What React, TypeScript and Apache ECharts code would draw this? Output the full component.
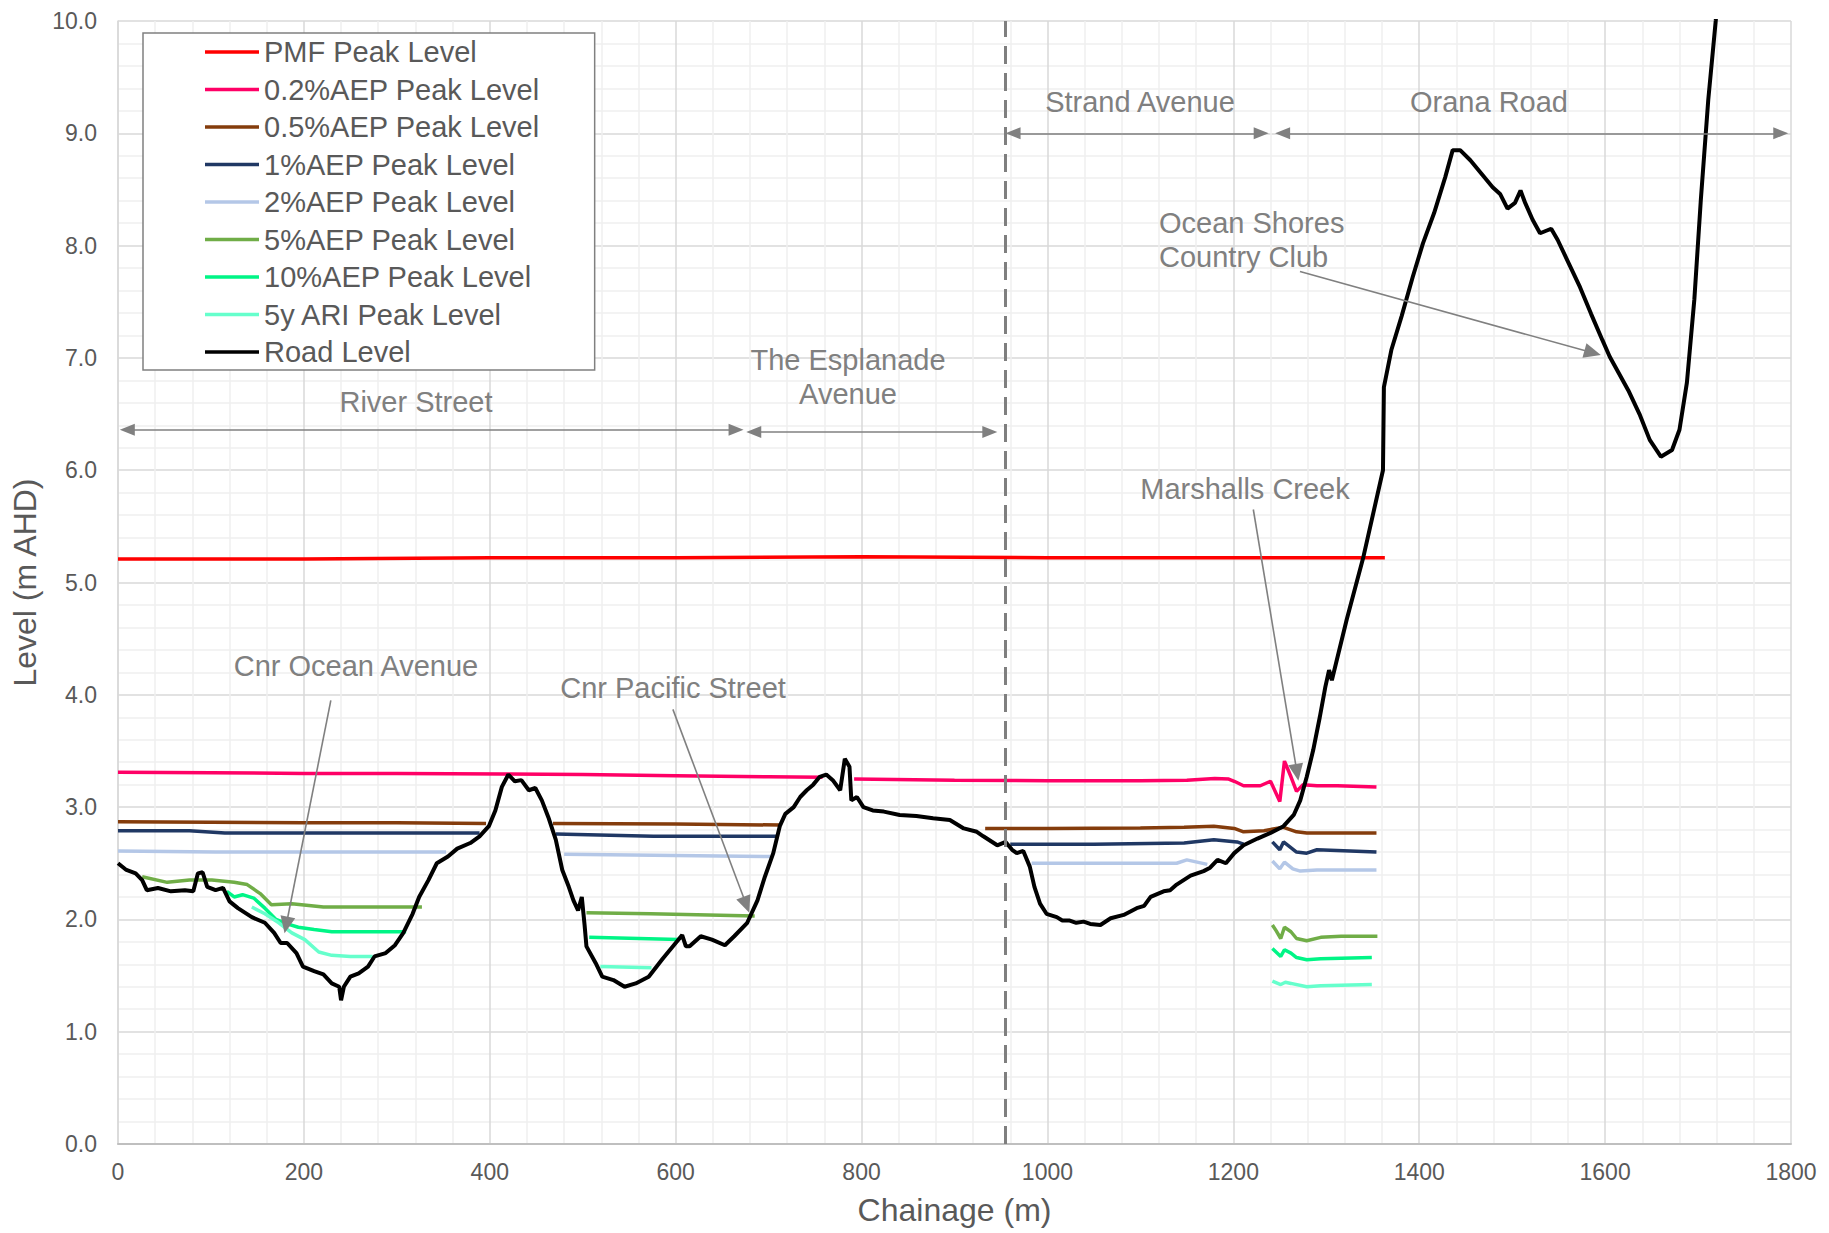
import React, { useEffect, useRef } from "react";
import * as echarts from "echarts";

const FONT = '"Liberation Sans", Arial, Helvetica, sans-serif';

// ---------- data ----------
const seriesNames = [
  "PMF Peak Level",
  "0.2%AEP Peak Level",
  "0.5%AEP Peak Level",
  "1%AEP Peak Level",
  "2%AEP Peak Level",
  "5%AEP Peak Level",
  "10%AEP Peak Level",
  "5y ARI Peak Level",
  "Road Level",
];
const seriesColors = ["#ff0000", "#ff0066", "#843c0c", "#203864", "#b4c7e7", "#70ad47", "#00f586", "#66ffcc", "#000000"];

const xTicks = [0, 200, 400, 600, 800, 1000, 1200, 1400, 1600, 1800];
const yTicks = [0, 1, 2, 3, 4, 5, 6, 7, 8, 9, 10];

const pmfChainage = [0, 200, 400, 600, 800, 1000, 1200, 1363];
const pmfLevel = [5.21, 5.21, 5.22, 5.22, 5.23, 5.22, 5.22, 5.22];

const aep02Chainage = [0, 100, 200, 300, 413, 500, 600, 700, 758, 775, 792, 900, 1000, 1100, 1150, 1180, 1195, 1201, 1211, 1229, 1240, 1250, 1255, 1262, 1268, 1275, 1290, 1312, 1354];
const aep02Level = [3.31, 3.305, 3.3, 3.3, 3.295, 3.29, 3.28, 3.27, 3.265, null, 3.25, 3.24, 3.235, 3.235, 3.24, 3.255, 3.25, 3.23, 3.19, 3.19, 3.23, 3.05, 3.41, 3.27, 3.14, 3.2, 3.19, 3.19, 3.18];

const aep05Chainage = [0, 100, 200, 300, 396, 430, 468, 600, 713, 820, 933, 1000, 1100, 1147, 1179, 1201, 1211, 1233, 1254, 1268, 1279, 1354];
const aep05Level = [2.87, 2.865, 2.86, 2.86, 2.855, null, 2.855, 2.85, 2.84, null, 2.81, 2.81, 2.815, 2.82, 2.83, 2.81, 2.78, 2.79, 2.82, 2.78, 2.77, 2.77];

const aep1Chainage = [0, 77, 115, 200, 300, 389, 430, 471, 576, 710, 830, 960, 1050, 1147, 1179, 1204, 1211, 1225, 1242, 1250, 1254, 1268, 1279, 1290, 1354];
const aep1Level = [2.79, 2.79, 2.77, 2.77, 2.77, 2.77, null, 2.76, 2.74, 2.74, null, 2.67, 2.67, 2.68, 2.71, 2.69, 2.67, null, 2.69, 2.62, 2.69, 2.6, 2.59, 2.62, 2.6];

const aep2Chainage = [0, 105, 200, 353, 420, 480, 600, 702, 850, 983, 1100, 1139, 1150, 1172, 1210, 1242, 1250, 1255, 1264, 1272, 1290, 1354];
const aep2Level = [2.61, 2.6, 2.6, 2.6, null, 2.58, 2.57, 2.56, null, 2.5, 2.5, 2.5, 2.53, 2.49, null, 2.52, 2.45, 2.51, 2.45, 2.43, 2.44, 2.44];

const aep5Chainage = [26, 53, 77, 101, 125, 139, 153, 165, 187, 221, 327, 420, 504, 573, 685, 960, 1242, 1246, 1251, 1255, 1262, 1268, 1279, 1294, 1316, 1355];
const aep5Level = [2.38, 2.33, 2.35, 2.35, 2.33, 2.31, 2.23, 2.13, 2.14, 2.11, 2.11, null, 2.06, 2.05, 2.03, null, 1.95, 1.9, 1.83, 1.93, 1.89, 1.83, 1.81, 1.84, 1.85, 1.85];

const aep10Chainage = [117, 125, 134, 146, 158, 170, 182, 194, 211, 230, 310, 420, 507, 603, 900, 1242, 1251, 1255, 1262, 1268, 1279, 1294, 1349];
const aep10Level = [2.25, 2.2, 2.22, 2.19, 2.1, 2.0, 1.96, 1.93, 1.91, 1.89, 1.89, null, 1.84, 1.82, null, 1.74, 1.67, 1.73, 1.7, 1.66, 1.64, 1.65, 1.66];

const ari5Chainage = [144, 158, 173, 187, 201, 216, 230, 250, 274, 420, 519, 574, 900, 1242, 1251, 1256, 1262, 1279, 1294, 1349];
const ari5Level = [2.11, 2.05, 1.97, 1.88, 1.82, 1.71, 1.68, 1.67, 1.67, null, 1.58, 1.57, null, 1.45, 1.42, 1.44, 1.43, 1.4, 1.41, 1.42];

const roadChainage = [
  0, 9, 19, 26, 31, 43, 57, 72, 81, 86, 91, 96, 105, 113, 120, 129, 144, 158, 168, 175, 182, 192, 199, 211, 221, 230, 238, 240, 243, 250,
  259, 269, 276, 288, 298, 307, 317, 324, 334, 343, 355, 365, 379, 389, 399, 406, 413, 420, 427, 434, 442, 449, 456, 463, 471, 478, 485, 490, 495, 499,
  502, 504, 514, 521, 533, 545, 557, 571, 586, 600, 607, 611, 615, 627, 639, 653, 663, 677, 688, 696, 705, 712, 718, 727, 734, 741, 748, 755, 762, 769,
  777, 782, 787, 789, 795, 802, 812, 824, 841, 859, 877, 895, 910, 924, 931, 946, 955, 962, 967, 974, 981, 986, 992, 999, 1010, 1016, 1024, 1031, 1039, 1046,
  1057, 1068, 1082, 1096, 1104, 1111, 1125, 1132, 1139, 1154, 1168, 1175, 1183, 1192, 1201, 1211, 1226, 1240, 1254, 1265, 1272, 1279, 1286, 1293, 1299, 1303, 1306, 1322, 1340, 1361,
  1362, 1370, 1381, 1393, 1404, 1416, 1428, 1436, 1444, 1455, 1467, 1479, 1487, 1495, 1503, 1509, 1514, 1522, 1530, 1542, 1549, 1561, 1573, 1585, 1597, 1605, 1613, 1625, 1637, 1648,
  1660, 1672, 1680, 1688, 1696, 1703, 1711, 1719, 1725,
];
const roadLevel = [
  2.5, 2.44, 2.41, 2.35, 2.26, 2.28, 2.25, 2.26, 2.25, 2.41, 2.42, 2.29, 2.26, 2.28, 2.16, 2.1, 2.02, 1.97, 1.88, 1.79, 1.79, 1.7, 1.58, 1.54, 1.51, 1.43, 1.4, 1.28, 1.4, 1.49,
  1.52, 1.58, 1.67, 1.7, 1.77, 1.88, 2.05, 2.2, 2.35, 2.5, 2.56, 2.63, 2.68, 2.74, 2.83, 2.97, 3.18, 3.29, 3.23, 3.24, 3.15, 3.17, 3.06, 2.91, 2.71, 2.44, 2.29, 2.17, 2.08, 2.2,
  1.95, 1.76, 1.61, 1.49, 1.46, 1.4, 1.43, 1.49, 1.65, 1.79, 1.86, 1.76, 1.76, 1.85, 1.82, 1.77, 1.85, 1.97, 2.17, 2.38, 2.59, 2.83, 2.94, 3.0, 3.09, 3.15, 3.2, 3.27, 3.29, 3.24,
  3.15, 3.43, 3.36, 3.06, 3.09, 3.0, 2.97, 2.96, 2.93, 2.92, 2.9, 2.885, 2.81, 2.78, 2.74, 2.66, 2.69, 2.62, 2.59, 2.61, 2.47, 2.29, 2.14, 2.05, 2.02, 1.99, 1.99, 1.97, 1.98, 1.96,
  1.95, 2.01, 2.04, 2.1, 2.12, 2.2, 2.25, 2.26, 2.31, 2.39, 2.43, 2.46, 2.53, 2.5, 2.59, 2.66, 2.72, 2.77, 2.83, 2.93, 3.06, 3.27, 3.51, 3.8, 4.07, 4.22, 4.13, 4.67, 5.23, 6.0,
  6.74, 7.07, 7.37, 7.72, 8.02, 8.29, 8.61, 8.85, 8.85, 8.76, 8.64, 8.52, 8.46, 8.33, 8.38, 8.49, 8.38, 8.23, 8.11, 8.15, 8.05, 7.84, 7.63, 7.39, 7.16, 7.01, 6.89, 6.71, 6.5, 6.27,
  6.12, 6.18, 6.36, 6.78, 7.52, 8.41, 9.3, 10.0, 10.6,
];

const seriesChainages = [pmfChainage, aep02Chainage, aep05Chainage, aep1Chainage, aep2Chainage, aep5Chainage, aep10Chainage, ari5Chainage, roadChainage];
const seriesLevels = [pmfLevel, aep02Level, aep05Level, aep1Level, aep2Level, aep5Level, aep10Level, ari5Level, roadLevel];

// divider between The Esplanade Avenue and Strand Avenue
const dividerChainage = 955;

const pair = (c: number[], l: (number | null)[]) => c.map((x, i) => [x, l[i] === null ? null : l[i]]);

export default function App() {
  const ref = useRef<HTMLDivElement>(null);

  useEffect(() => {
    document.body.style.margin = "0";
    document.body.style.overflow = "hidden";
    const chart = echarts.init(ref.current!, undefined, { renderer: "svg" });

    const gray = "#808080";
    const twoArrow = (x1: number, x2: number, y: number) => [
      { coord: [x1, y], symbol: "triangle", symbolSize: [12, 15] },
      { coord: [x2, y], symbol: "triangle", symbolSize: [12, 15] },
    ];
    const oneArrow = (x1: number, y1: number, x2: number, y2: number) => [
      { coord: [x1, y1], symbol: "none" },
      { coord: [x2, y2], symbol: "triangle", symbolSize: [15, 17] },
    ];

    const lineSeries = seriesNames.map((name, i) => ({
      name,
      type: "line",
      data: pair(seriesChainages[i], seriesLevels[i]),
      symbol: "none",
      showSymbol: false,
      connectNulls: false,
      color: seriesColors[i],
      lineStyle: { color: seriesColors[i], width: i === 8 ? 4 : 3.5 },
      emphasis: { disabled: true },
      silent: true,
    }));

    const annotSeries = {
      name: "annotations",
      type: "line",
      data: [],
      silent: true,
      markLine: {
        silent: true,
        animation: false,
        label: { show: false },
        lineStyle: { color: gray, width: 1.6, type: "solid" },
        data: [
          [
            { coord: [dividerChainage, 0], symbol: "none", lineStyle: { color: "#7f7f7f", width: 3, type: [18, 9] } },
            { coord: [dividerChainage, 10], symbol: "none", lineStyle: { color: "#7f7f7f", width: 3, type: [18, 9] } },
          ],
          twoArrow(10, 665, 6.36),
          twoArrow(684, 938, 6.34),
          twoArrow(963, 1230, 9.0),
          twoArrow(1253, 1789, 9.0),
          oneArrow(229, 3.95, 181, 1.95),
          oneArrow(597, 3.87, 676, 2.13),
          oneArrow(1221.5, 5.65, 1268.5, 3.31),
          oneArrow(1271.7, 7.77, 1586.6, 7.045),
        ],
      },
    };

    const annText = (text: string, x: number, y: number, align = "center") => ({
      type: "text",
      x,
      y,
      silent: true,
      z: 10,
      style: {
        text,
        fill: gray,
        fontSize: 29,
        fontFamily: FONT,
        lineHeight: 34,
        align,
        textAlign: align,
        verticalAlign: "middle",
        textVerticalAlign: "middle",
      },
    });

    chart.setOption({
      animation: false,
      backgroundColor: "#ffffff",
      textStyle: { fontFamily: FONT },
      grid: { left: 118, right: 38, top: 21, bottom: 89, containLabel: false },
      legend: {
        orient: "vertical",
        left: 143,
        top: 33,
        padding: [4, 55, 3, 62],
        itemGap: 7.5,
        itemWidth: 54,
        itemHeight: 3.5,
        icon: "rect",
        selectedMode: false,
        borderColor: gray,
        borderWidth: 1.5,
        backgroundColor: "#ffffff",
        textStyle: { fontSize: 29, color: "#595959", fontFamily: FONT, lineHeight: 30 },
        data: seriesNames,
      },
      xAxis: {
        type: "value",
        min: xTicks[0],
        max: xTicks[xTicks.length - 1],
        interval: xTicks[1] - xTicks[0],
        name: "Chainage (m)",
        nameLocation: "middle",
        nameGap: 50,
        nameTextStyle: { fontSize: 32, color: "#595959", fontFamily: FONT },
        axisLine: { show: true, onZero: false, lineStyle: { color: "#bfbfbf", width: 2 } },
        axisTick: { show: false },
        axisLabel: { fontSize: 23, color: "#595959", margin: 16, fontFamily: FONT, formatter: (v: number) => String(v) },
        splitLine: { show: true, lineStyle: { color: "#d9d9d9", width: 1.5 } },
        minorTick: { show: false, splitNumber: 5 },
        minorSplitLine: { show: true, lineStyle: { color: "#efefef", width: 1.5 } },
      },
      yAxis: {
        type: "value",
        min: yTicks[0],
        max: yTicks[yTicks.length - 1],
        interval: yTicks[1] - yTicks[0],
        name: "Level (m AHD)",
        nameLocation: "middle",
        nameGap: 76,
        nameTextStyle: { fontSize: 32, color: "#595959", fontFamily: FONT },
        axisLine: { show: true, onZero: false, lineStyle: { color: "#d9d9d9", width: 1.5 } },
        axisTick: { show: false },
        axisLabel: { fontSize: 23, color: "#595959", margin: 21, fontFamily: FONT, formatter: (v: number) => v.toFixed(1) },
        splitLine: { show: true, lineStyle: { color: "#d9d9d9", width: 1.5 } },
        minorTick: { show: false, splitNumber: 5 },
        minorSplitLine: { show: true, lineStyle: { color: "#efefef", width: 1.5 } },
      },
      series: [annotSeries, ...lineSeries],
      graphic: [
        annText("River Street", 416, 402),
        annText("The Esplanade\nAvenue", 848, 377),
        annText("Strand Avenue", 1140, 102),
        annText("Orana Road", 1489, 102),
        annText("Ocean Shores\nCountry Club", 1159, 240, "left"),
        annText("Marshalls Creek", 1245, 489),
        annText("Cnr Ocean Avenue", 356, 666),
        annText("Cnr Pacific Street", 673, 688),
      ],
    });

    return () => chart.dispose();
  }, []);

  return <div ref={ref} style={{ width: 1829, height: 1233 }} />;
}
